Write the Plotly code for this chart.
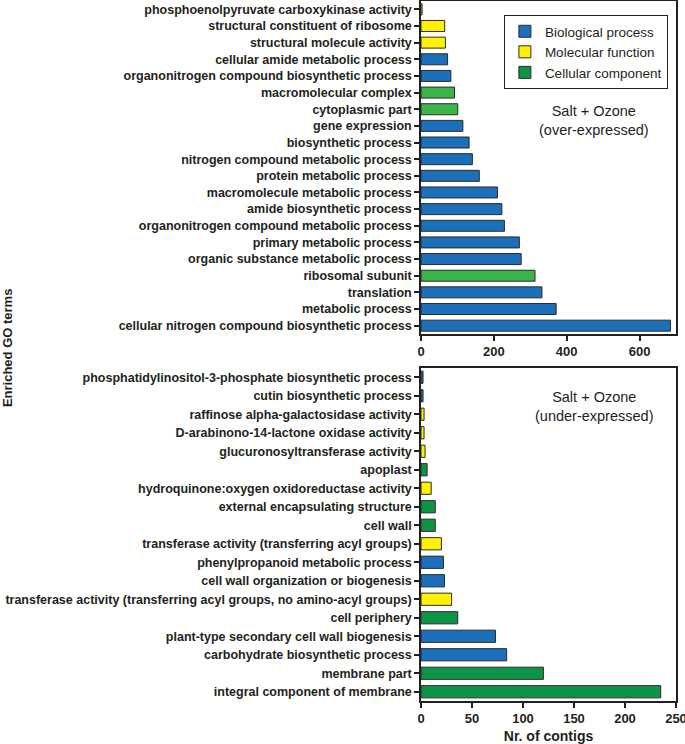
import plotly.graph_objects as go

# ---------------- data ----------------
top_terms = [
    "phosphoenolpyruvate carboxykinase activity",
    "structural constituent of ribosome",
    "structural molecule activity",
    "cellular amide metabolic process",
    "organonitrogen compound biosynthetic process",
    "macromolecular complex",
    "cytoplasmic part",
    "gene expression",
    "biosynthetic process",
    "nitrogen compound metabolic process",
    "protein metabolic process",
    "macromolecule metabolic process",
    "amide biosynthetic process",
    "organonitrogen compound metabolic process",
    "primary metabolic process",
    "organic substance metabolic process",
    "ribosomal subunit",
    "translation",
    "metabolic process",
    "cellular nitrogen compound biosynthetic process",
]
top_values = [3, 65, 67, 73, 82, 92, 101, 115, 132, 141, 160, 210, 222, 229,
              270, 275, 313, 332, 371, 685]
top_types = ["MF", "MF", "MF", "BP", "BP", "CC", "CC", "BP", "BP", "BP", "BP",
             "BP", "BP", "BP", "BP", "BP", "CC", "BP", "BP", "BP"]

bot_terms = [
    "phosphatidylinositol-3-phosphate biosynthetic process",
    "cutin biosynthetic process",
    "raffinose alpha-galactosidase activity",
    "D-arabinono-14-lactone oxidase activity",
    "glucuronosyltransferase activity",
    "apoplast",
    "hydroquinone:oxygen oxidoreductase activity",
    "external encapsulating structure",
    "cell wall",
    "transferase activity (transferring acyl groups)",
    "phenylpropanoid metabolic process",
    "cell wall organization or biogenesis",
    "transferase activity (transferring acyl groups, no amino-acyl groups)",
    "cell periphery",
    "plant-type secondary cell wall biogenesis",
    "carbohydrate biosynthetic process",
    "membrane part",
    "integral component of membrane",
]
bot_values = [2, 2, 3, 3, 4, 6, 10, 14, 14, 20, 22, 23, 30, 36, 73, 84, 120, 235]
bot_types = ["BP", "BP", "MF", "MF", "MF", "CC", "MF", "CC", "CC", "MF", "BP",
             "BP", "MF", "CC", "BP", "BP", "CC", "CC"]

type_names = {"BP": "Biological process", "MF": "Molecular function",
              "CC": "Cellular component"}
type_order = ["BP", "MF", "CC"]
colors_top = {"BP": "#1c6fba", "MF": "#fff200", "CC": "#3bb44a"}
colors_bot = {"BP": "#1c6fba", "MF": "#fff200", "CC": "#0e9446"}
legend_colors = {"BP": "#1c6fba", "MF": "#fff200", "CC": "#0e9446"}

FONT = "Liberation Sans, Arial, sans-serif"
TXT = "#231f20"

fig = go.Figure()

def add_panel(terms, values, types, cols, xa, ya):
    for t in type_order:
        ys = [terms[i] for i in range(len(terms)) if types[i] == t]
        xs = [values[i] for i in range(len(terms)) if types[i] == t]
        fig.add_trace(go.Bar(
            x=xs, y=ys, orientation="h", name=type_names[t],
            legendgroup=t, showlegend=False,
            marker=dict(color=cols[t], line=dict(color="#2b2b2b", width=1)),
            xaxis=xa, yaxis=ya, width=0.66,
        ))

add_panel(top_terms, top_values, top_types, colors_top, "x", "y")
add_panel(bot_terms, bot_values, bot_types, colors_bot, "x2", "y2")

# legend entries
for t in type_order:
    fig.add_trace(go.Bar(
        x=[None], y=[None], orientation="h", name=type_names[t],
        legendgroup=t, showlegend=True,
        marker=dict(color=legend_colors[t], line=dict(color="#2b2b2b", width=1)),
        xaxis="x", yaxis="y",
    ))

axis_common = dict(
    showline=True, linecolor="#231f20", linewidth=1.5, mirror=True,
    ticks="outside", ticklen=5, tickwidth=1.5, tickcolor="#231f20",
    showgrid=False, zeroline=False, automargin=False,
)

fig.update_layout(
    width=685, height=744,
    margin=dict(l=421, r=9, t=1, b=43),
    paper_bgcolor="white", plot_bgcolor="white",
    barmode="overlay",
    font=dict(family=FONT, color=TXT),
    xaxis=dict(domain=[0, 1], anchor="y", range=[0, 700], tickvals=[0, 200, 400, 600],
               tickfont=dict(size=13, weight="bold", family=FONT, color=TXT), **axis_common),
    yaxis=dict(domain=[0.5243, 1], anchor="x", categoryorder="array",
               categoryarray=top_terms, autorange="reversed",
               tickfont=dict(size=12.5, weight="bold", family=FONT, color=TXT), **axis_common),
    xaxis2=dict(domain=[0, 1], anchor="y2", range=[0, 250], tickvals=[0, 50, 100, 150, 200, 250],
                ticklabeloverflow="allow",
                tickfont=dict(size=13, weight="bold", family=FONT, color=TXT),
                title=dict(text="Nr. of contigs", standoff=6,
                           font=dict(size=14, weight="bold", family=FONT, color=TXT)),
                **axis_common),
    yaxis2=dict(domain=[0, 0.4757], anchor="x2", categoryorder="array",
                categoryarray=bot_terms, autorange="reversed",
                tickfont=dict(size=12.5, weight="bold", family=FONT, color=TXT), **axis_common),
    legend=dict(x=0.325, y=0.98, xanchor="left", yanchor="top",
                xref="paper", yref="paper",
                bordercolor="#231f20", borderwidth=1, bgcolor="white",
                font=dict(size=13.5, family=FONT, color=TXT),
                tracegroupgap=0, itemwidth=30),
    annotations=[
        dict(text="Salt + Ozone<br>(over-expressed)", xref="paper", yref="paper",
             x=0.678, y=0.8286, xanchor="center", yanchor="middle", showarrow=False,
             font=dict(size=14.5, family=FONT, color=TXT)),
        dict(text="Salt + Ozone<br>(under-expressed)", xref="paper", yref="paper",
             x=0.678, y=0.4214, xanchor="center", yanchor="middle", showarrow=False,
             font=dict(size=14.5, family=FONT, color=TXT)),
        dict(text="Enriched GO terms", xref="paper", yref="paper",
             x=-1.624, y=0.504, xanchor="center", yanchor="middle", showarrow=False,
             textangle=-90,
             font=dict(size=13, weight="bold", family=FONT, color=TXT)),
    ],
)

fig.write_html("out.html",
               config={"displayModeBar": False},
               post_script="document.body.style.margin='0';document.body.style.overflow='hidden';")
